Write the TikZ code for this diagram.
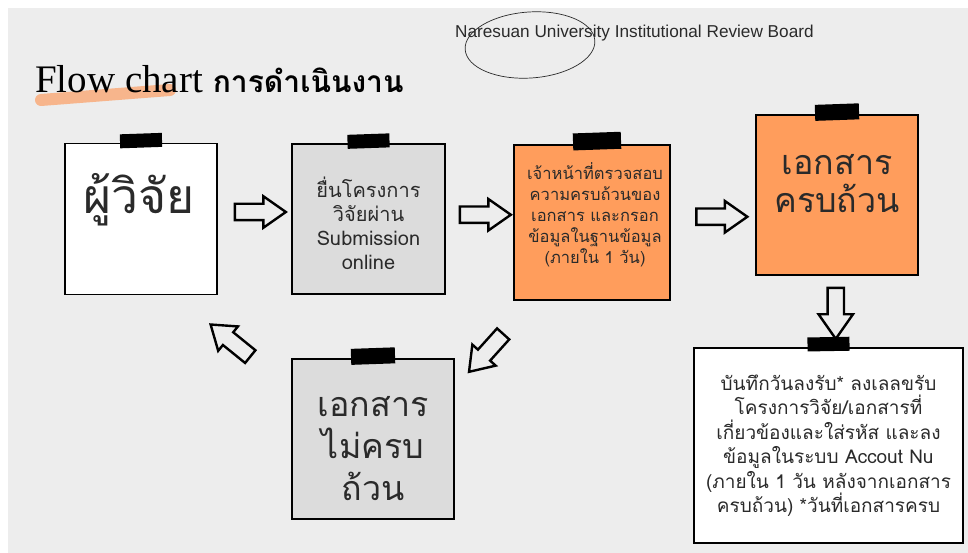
\documentclass[tikz,border=0pt]{standalone}
\usepackage{fontspec}
\usetikzlibrary{shapes.arrows,calc}
\newfontfamily\thaifont[Script=Thai]{Loma}
\newfontfamily\boardfont{Liberation Sans}
\newfontfamily\titleserif{Liberation Serif}
\definecolor{bggrey}{HTML}{EDEDED}
\definecolor{notegrey}{HTML}{DCDCDC}
\definecolor{noteorange}{HTML}{FF9D5C}
\definecolor{brushorange}{HTML}{F7B58C}
\definecolor{textgrey}{HTML}{2A2A2A}

\begin{document}
\begin{tikzpicture}[
    x=1pt, y=-1pt,
    note_box/.style={rectangle, draw=black, line width=1.8pt, inner sep=0pt},
    tape/.style={rectangle, fill=black, inner sep=0pt, minimum width=42pt, minimum height=14pt},
    block_arrow/.style={single arrow, draw=black, fill=bggrey, line width=2.4pt, inner xsep=0pt, inner ysep=7pt, minimum height=51pt, single arrow head extend=7.5pt, single arrow tip angle=70},
    note_text/.style={align=center, text=textgrey, inner sep=0pt}
]
    % Background
    \useasboundingbox (0,0) rectangle (968,553);
    \fill[bggrey] (8,8) rectangle (968,553);

    % Title
    \draw[brushorange, line width=12pt, line cap=round] (41,100) -- (170,90);
    \node[anchor=base west, inner sep=0pt] (title) at (35,93)
        {\fontsize{39}{44}\selectfont\titleserif Flow chart \fontsize{30}{36}\selectfont\thaifont\bfseries การดำเนินงาน};
    \node[anchor=base west, inner sep=0pt, text=textgrey, font=\boardfont\fontsize{17.2}{20}\selectfont] (board) at (455,38)
        {Naresuan University Institutional Review Board};
    \draw[line width=0.7pt, textgrey, rotate around={4:(530,45)}] (530,45) ellipse [x radius=65, y radius=33];

    % Nodes
    \node[note_box, fill=white, minimum width=152pt, minimum height=151pt] (researcher) at (141,219) {};
    \node[note_box, fill=notegrey, minimum width=153pt, minimum height=150pt] (submit) at (368.5,219) {};
    \node[note_box, fill=noteorange, minimum width=156pt, minimum height=155pt] (check) at (592,222.5) {};
    \node[note_box, fill=noteorange, minimum width=162pt, minimum height=160pt] (complete) at (837,195) {};
    \node[note_box, fill=white, minimum width=269pt, minimum height=195pt] (record) at (828.5,445.5) {};
    \node[note_box, fill=notegrey, minimum width=162pt, minimum height=160pt] (incomplete) at (373,439) {};

    % Tapes
    \node[tape, rotate=2] (researcher_tape) at ([yshift=2pt]researcher.north) {};
    \node[tape, rotate=2] (submit_tape) at ([yshift=2pt]submit.north) {};
    \node[tape, rotate=2, minimum width=48pt, minimum height=17pt] (check_tape) at ([xshift=5pt,yshift=3pt]check.north) {};
    \node[tape, rotate=2, minimum width=44pt, minimum height=16pt] (complete_tape) at ([yshift=2pt]complete.north) {};
    \node[tape, rotate=1] (record_tape) at ([yshift=3pt]record.north) {};
    \node[tape, rotate=2, minimum width=44pt, minimum height=16pt] (incomplete_tape) at ([yshift=2pt]incomplete.north) {};

    % Texts
    \node[note_text, font=\thaifont\fontsize{48}{54}\selectfont] (researcher_txt) at ([xshift=-2pt,yshift=19pt]researcher.center)
        {ผู้วิจัย};
    \node[note_text, font=\thaifont\fontsize{20}{24}\selectfont] (submit_txt) at ([yshift=-4pt]submit.center)
        {ยื่นโครงการ\\วิจัยผ่าน\\Submission\\online};
    \node[note_text, font=\thaifont\fontsize{16.5}{21}\selectfont] (check_txt) at ([xshift=3pt,yshift=8pt]check.center)
        {เจ้าหน้าที่ตรวจสอบ\\ความครบถ้วนของ\\เอกสาร และกรอก\\ข้อมูลในฐานข้อมูล\\(ภายใน 1 วัน)};
    \node[note_text, font=\thaifont\fontsize{34}{38}\selectfont] (complete_txt) at ([yshift=11pt]complete.center)
        {เอกสาร\\ครบถ้วน};
    \node[note_text, font=\thaifont\fontsize{34}{42}\selectfont] (incomplete_txt) at ([yshift=-10pt]incomplete.center)
        {เอกสาร\\ไม่ครบ\\ถ้วน};
    \node[note_text, font=\thaifont\fontsize{19}{24.5}\selectfont] (record_txt) at (record.center)
        {บันทึกวันลงรับ* ลงเลลขรับ\\โครงการวิจัย/เอกสารที่\\เกี่ยวข้องและใส่รหัส และลง\\ข้อมูลในระบบ Accout Nu\\(ภายใน 1 วัน หลังจากเอกสาร\\ครบถ้วน) *วันที่เอกสารครบ};

    % Arrows
    \node[block_arrow, yshift=7pt] (arrow1) at ($(researcher.east)!0.5!(submit.west)$) {};
    \node[block_arrow, yshift=6pt] (arrow2) at ($(submit.east)!0.5!(check.west)$) {};
    \node[block_arrow, xshift=3pt, yshift=-8pt] (arrow3) at ($(check.east)!0.5!(complete.west)$) {};
    \node[block_arrow, xshift=3pt, yshift=4pt, rotate=-90, single arrow head extend=9pt] (arrow4) at ($(complete.south)!0.5!(record.north)$) {};
    \node[block_arrow, rotate=228] (arrow5) at ([xshift=6pt,yshift=-19pt]$(check.south west)!0.5!(incomplete.north east)$) {};
    \node[block_arrow, rotate=141] (arrow6) at ([xshift=-19.5pt,yshift=-17.5pt]$(incomplete.north west)!0.5!(researcher.south east)$) {};
\end{tikzpicture}
\end{document}
